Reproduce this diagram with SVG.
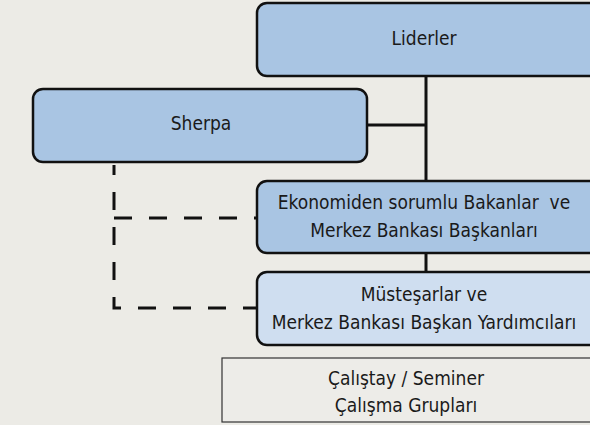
<svg xmlns="http://www.w3.org/2000/svg" width="590" height="425" viewBox="0 0 590 425">
<style>
.bg{fill:#ecebe6}
.node{fill:#a9c5e3;stroke:#111;stroke-width:2.5}
.light{fill:#cfdef0;stroke:#111;stroke-width:2.5}
.plain{fill:#edece8;stroke:#333;stroke-width:1.2}
.t{font-family:"DejaVu Sans Condensed","DejaVu Sans",sans-serif;font-stretch:condensed;font-size:19px;fill:#1a1a1a;text-anchor:middle}
.solid{stroke:#111;stroke-width:3;fill:none}
.dash{stroke:#111;stroke-width:3;fill:none;stroke-dasharray:18 17}
</style>
<rect class="bg" x="0" y="0" width="590" height="425"/>
<g id="connectors">
<path class="solid" d="M426,76 V181"/>
<path class="solid" d="M367,125 H426"/>
<path class="solid" d="M426,253 V272"/>
<path class="dash" style="stroke-dashoffset:8" d="M114,165 V308 H257"/>
<path class="dash" d="M114,218 H257"/>
</g>
<g id="liderler">
<rect class="node" x="257" y="3" width="345" height="73" rx="10"/>
<text class="t" x="424" y="45">Liderler</text>
</g>
<g id="sherpa">
<rect class="node" x="33" y="89" width="334" height="73" rx="10"/>
<text class="t" x="201" y="130">Sherpa</text>
</g>
<g id="bakanlar">
<rect class="node" x="257" y="181" width="345" height="72" rx="10"/>
<text class="t" x="424" y="209" xml:space="preserve">Ekonomiden sorumlu Bakanlar  ve</text>
<text class="t" x="424" y="237">Merkez Bankası Başkanları</text>
</g>
<g id="mustesarlar">
<rect class="light" x="257" y="272" width="345" height="73" rx="10"/>
<text class="t" x="424" y="301">Müsteşarlar ve</text>
<text class="t" x="424" y="329">Merkez Bankası Başkan Yardımcıları</text>
</g>
<g id="calistay">
<rect class="plain" x="222" y="358" width="380" height="64"/>
<text class="t" x="406" y="385">Çalıştay / Seminer</text>
<text class="t" x="406" y="412">Çalışma Grupları</text>
</g>
</svg>
